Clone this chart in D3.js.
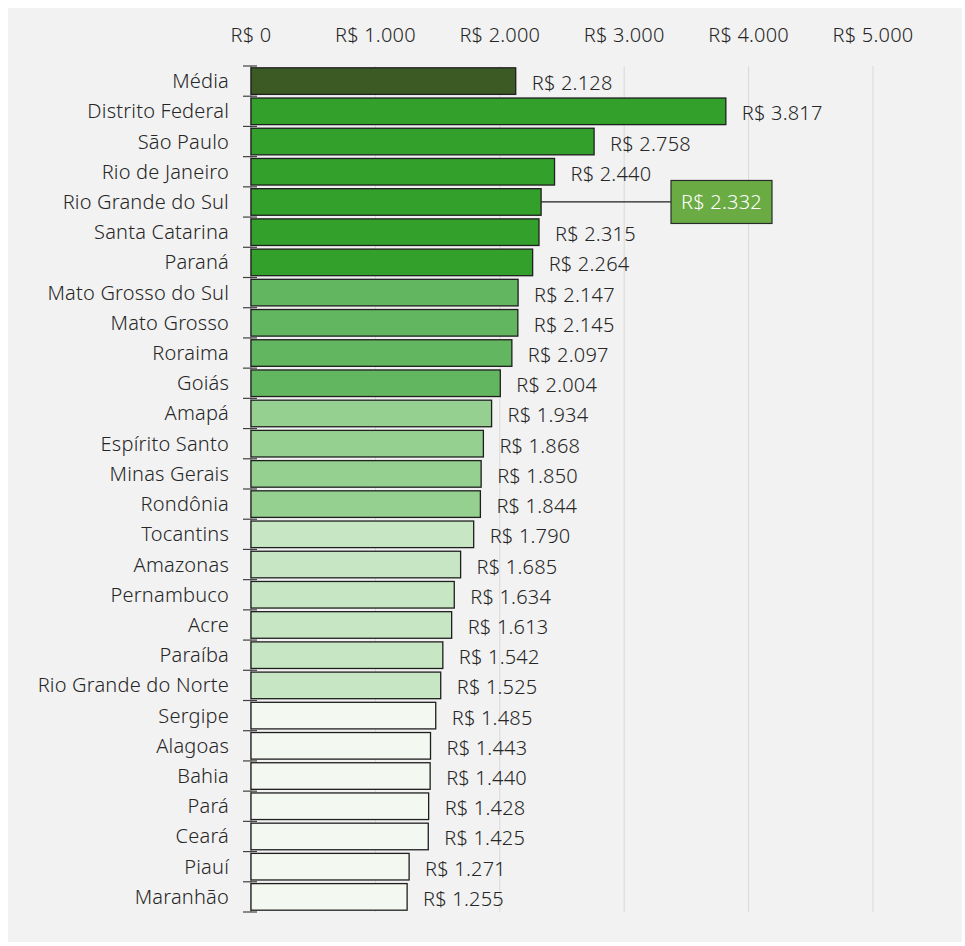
<!DOCTYPE html>
<html>
<head>
<meta charset="utf-8">
<script src="https://cdn.jsdelivr.net/npm/d3@7"></script>
<style>
  body { margin: 0; background: #ffffff; }
  svg text { font-family: "Noto Sans", "Open Sans", sans-serif; font-weight: 300; fill: #262626; letter-spacing: 0.2px; }
</style>
</head>
<body>
<div id="chart"></div>
<script>
// Renda média por estado (R$)
const states = ['Média', 'Distrito Federal', 'São Paulo', 'Rio de Janeiro', 'Rio Grande do Sul',
  'Santa Catarina', 'Paraná', 'Mato Grosso do Sul', 'Mato Grosso', 'Roraima', 'Goiás', 'Amapá',
  'Espírito Santo', 'Minas Gerais', 'Rondônia', 'Tocantins', 'Amazonas', 'Pernambuco', 'Acre',
  'Paraíba', 'Rio Grande do Norte', 'Sergipe', 'Alagoas', 'Bahia', 'Pará', 'Ceará', 'Piauí', 'Maranhão'];
const values = [2128, 3817, 2758, 2440, 2332, 2315, 2264, 2147, 2145, 2097, 2004, 1934,
  1868, 1850, 1844, 1790, 1685, 1634, 1613, 1542, 1525, 1485, 1443, 1440, 1428, 1425, 1271, 1255];
// color group per row (0 = média, 1..5 = faixas)
const groups = [0, 1, 1, 1, 1, 1, 1, 2, 2, 2, 2, 3, 3, 3, 3, 4, 4, 4, 4, 4, 4, 5, 5, 5, 5, 5, 5, 5];
const groupColors = ['#3b5a24', '#33a02c', '#63b660', '#95d091', '#c7e6c3', '#f3f9f1'];
const xTicks = [0, 1000, 2000, 3000, 4000, 5000];
const highlight = 'Rio Grande do Sul';

const data = states.map((s, i) => ({ state: s, value: values[i], group: groups[i] }));

const W = 965, H = 946;
const svg = d3.select('#chart').append('svg').attr('width', W).attr('height', H);

// panel background
svg.append('rect').attr('x', 8).attr('y', 8).attr('width', 954).attr('height', 934).attr('fill', '#f2f2f2');

const fmt = v => 'R$ ' + d3.format(',')(v).replace(/,/g, '.');

const x = d3.scaleLinear().domain([0, 5000]).range([251, 873]);
const y = d3.scaleBand().domain(states).range([66, 912]).paddingInner(0.12).paddingOuter(0.06);

// gridlines
svg.append('g').selectAll('line')
  .data(xTicks.slice(1))
  .enter().append('line')
  .attr('x1', d => x(d)).attr('x2', d => x(d))
  .attr('y1', 66).attr('y2', 912)
  .attr('stroke', '#d9d9d9').attr('stroke-width', 1);

// top tick labels
svg.append('g').selectAll('text')
  .data(xTicks)
  .enter().append('text')
  .attr('x', d => x(d)).attr('y', 35)
  .attr('dy', '0.35em')
  .attr('text-anchor', 'middle')
  .style('font-size', '20px')
  .text(d => fmt(d));

// left axis line and boundary ticks
const step = y.step();
const bounds = states.map(s => y(s) - step * y.paddingInner() / 2);
bounds.push(y(states[states.length - 1]) + y.bandwidth() + step * y.paddingInner() / 2);
svg.append('line')
  .attr('x1', x(0)).attr('x2', x(0))
  .attr('y1', bounds[0]).attr('y2', bounds[bounds.length - 1])
  .attr('stroke', '#7f7f7f').attr('stroke-width', 1);
svg.append('g').selectAll('line')
  .data(bounds)
  .enter().append('line')
  .attr('x1', x(0) - 8).attr('x2', x(0) + 6)
  .attr('y1', d => d).attr('y2', d => d)
  .attr('stroke', '#404040').attr('stroke-width', 1.2);

// bars
svg.append('g').selectAll('rect')
  .data(data)
  .enter().append('rect')
  .attr('x', x(0))
  .attr('y', d => y(d.state))
  .attr('width', d => x(d.value) - x(0))
  .attr('height', y.bandwidth())
  .attr('fill', d => groupColors[d.group])
  .attr('stroke', '#1f1f1f')
  .attr('stroke-width', 1.3);

// category labels
svg.append('g').selectAll('text')
  .data(data)
  .enter().append('text')
  .attr('x', x(0) - 22)
  .attr('y', d => y(d.state) + y.bandwidth() / 2)
  .attr('dy', '0.35em')
  .attr('text-anchor', 'end')
  .style('font-size', '20px')
  .text(d => d.state);

// value labels (the highlighted one goes into a callout box)
svg.append('g').selectAll('text')
  .data(data.filter(d => d.state !== highlight))
  .enter().append('text')
  .attr('x', d => x(d.value) + 16)
  .attr('y', d => y(d.state) + y.bandwidth() / 2 + 2)
  .attr('dy', '0.35em')
  .style('font-size', '20px')
  .text(d => fmt(d.value));

// callout
const hd = data.find(d => d.state === highlight);
const cy = y(hd.state) + y.bandwidth() / 2;
const boxX = 671, boxW = 101, boxH = 43;
svg.append('line')
  .attr('x1', x(hd.value)).attr('x2', boxX)
  .attr('y1', cy).attr('y2', cy)
  .attr('stroke', '#1f1f1f').attr('stroke-width', 1.2);
svg.append('rect')
  .attr('x', boxX).attr('y', cy - boxH / 2)
  .attr('width', boxW).attr('height', boxH)
  .attr('fill', '#6aab44')
  .attr('stroke', '#2b2b2b').attr('stroke-width', 1.2);
svg.append('text')
  .attr('x', boxX + boxW / 2).attr('y', cy)
  .attr('dy', '0.35em')
  .attr('text-anchor', 'middle')
  .style('font-size', '20px')
  .style('fill', '#ffffff')
  .text(fmt(hd.value));
</script>
</body>
</html>
